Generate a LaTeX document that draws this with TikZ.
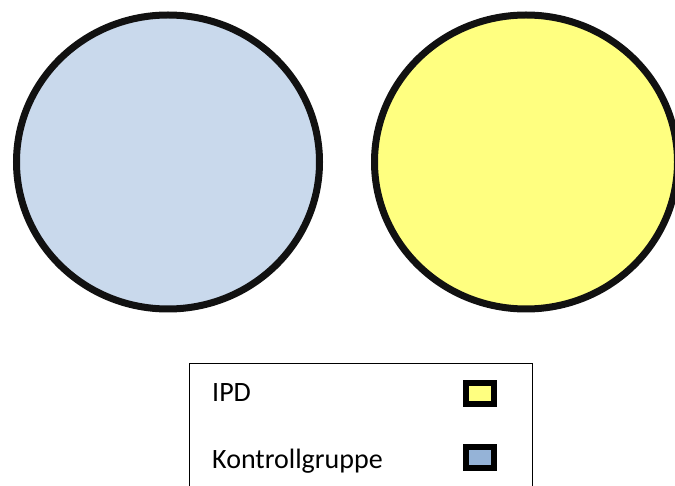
\documentclass[tikz,border=0pt]{standalone}
\usepackage{fontspec}
\setmainfont{Carlito}
\usetikzlibrary{shapes.geometric}
\definecolor{circblue}{HTML}{C9D9EC}
\definecolor{legblue}{HTML}{95B3D7}
\definecolor{ipdyellow}{HTML}{FFFF80}
\definecolor{edge}{HTML}{111111}
\tikzset{
  group/.style={ellipse, draw=edge, line width=7pt, minimum width=303pt, minimum height=294pt, inner sep=0pt},
  swatch/.style={rectangle, draw=black, line width=6pt, minimum width=28pt, minimum height=21pt, inner sep=0pt},
  legtext/.style={anchor=base west, inner sep=0pt, font=\fontsize{28}{34}\selectfont}
}
\begin{document}
\begin{tikzpicture}[x=1pt,y=-1pt]
\useasboundingbox (0,0) rectangle (675,486);
\clip (0,0) rectangle (675,486);
\fill[white] (0,0) rectangle (675,486);
\node[group, fill=circblue] (kontroll) at (168,162) {};
\node[group, fill=ipdyellow] (ipd) at (526,162) {};
\node[draw=black, line width=1.3pt, rectangle, minimum width=343pt, minimum height=140pt, anchor=north west, inner sep=0pt] (legend) at (189,363) {};
\node[legtext] (lipd) at (212,401) {IPD};
\node[legtext] (lkon) at (212,468) {Kontrollgruppe};
\node[swatch, fill=ipdyellow] (sipd) at (480,393.5) {};
\node[swatch, fill=legblue] (skon) at (480,457.5) {};
\end{tikzpicture}
\end{document}
